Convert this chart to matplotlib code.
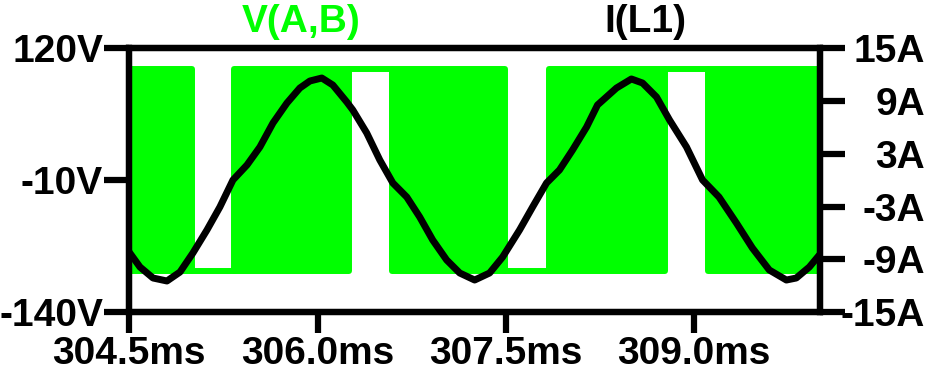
import matplotlib
matplotlib.use('Agg')
import matplotlib.pyplot as plt
from matplotlib.patches import Rectangle

# ---- data ----
# V(A,B): switching blocks ('sw') and constant-level gaps
v_seg_start = [304.5, 305.000, 305.334, 306.249, 306.591, 307.491, 307.841, 308.771, 309.113]
v_seg_end = [305.000, 305.334, 306.249, 306.591, 307.491, 307.841, 308.771, 309.113, 310.0]
v_seg_state = ['sw', 'low', 'sw', 'high', 'sw', 'low', 'sw', 'high', 'sw']
v_high = 100.0
v_low = -100.0

# I(L1)
i_t = [304.500, 304.585, 304.689, 304.800, 304.904, 305.007, 305.119, 305.222,
       305.326, 305.438, 305.541, 305.645, 305.756, 305.859, 305.939, 306.034,
       306.122, 306.233, 306.281, 306.392, 306.496, 306.600, 306.711, 306.814,
       306.918, 307.029, 307.133, 307.252, 307.371, 307.475, 307.610, 307.714,
       307.825, 307.928, 308.032, 308.144, 308.231, 308.382, 308.501, 308.590,
       308.701, 308.805, 308.940, 309.068, 309.199, 309.338, 309.465, 309.600,
       309.736, 309.815, 309.919, 309.999]
i_a = [-8.2, -9.88, -11.13, -11.47, -10.45, -8.28, -5.66, -3.04,
       0.03, 1.74, 3.79, 6.52, 8.79, 10.50, 11.30, 11.64,
       10.84, 8.91, 8.00, 5.38, 2.31, -0.31, -1.91, -4.18,
       -6.81, -9.08, -10.56, -11.36, -10.56, -8.74, -5.66, -3.04,
       -0.31, 1.17, 3.44, 6.06, 8.57, 10.50, 11.53, 11.07,
       9.48, 6.86, 3.79, 0.03, -1.91, -4.87, -7.71, -10.22,
       -11.36, -11.13, -9.88, -8.51]

x_ticks = [304.5, 306.0, 307.5, 309.0]
x_labels = ['304.5ms', '306.0ms', '307.5ms', '309.0ms']
v_ticks = [-140, -10, 120]
v_labels = ['-140V', '-10V', '120V']
a_ticks = [-15, -9, -3, 3, 9, 15]
a_labels = ['-15A', '-9A', '-3A', '3A', '9A', '15A']

# ---- style ----
plt.rcParams['font.family'] = ['Liberation Sans', 'DejaVu Sans']
plt.rcParams['font.weight'] = 'bold'
GREEN = '#00ff00'
FS = 28
LW_SP = 4.5

fig = plt.figure(figsize=(9.38, 3.83), dpi=100)
W, H = 938, 383
ax = fig.add_axes([129.3 / W, 1 - 312 / H, (819.5 - 129.3) / W, (312 - 48.5) / H])
ax2 = ax.twinx()

for s, e, st in zip(v_seg_start, v_seg_end, v_seg_state):
    if st == 'sw':
        ax.add_patch(Rectangle((s, v_low), e - s, v_high - v_low,
                               facecolor=GREEN, edgecolor=GREEN, linewidth=4.3,
                               joinstyle='round'))
    else:
        lvl = v_high if st == 'high' else v_low
        ax.plot([s, e], [lvl, lvl], color=GREEN, lw=4.3, solid_capstyle='round')

ax2.plot(i_t, i_a, color='black', lw=5, solid_joinstyle='round',
         solid_capstyle='round')

ax.set_xlim(304.5, 310.0)
ax.set_ylim(-140, 120)
ax2.set_ylim(-15, 15)

ax.set_xticks(x_ticks)
ax.set_xticklabels(x_labels)
ax.set_yticks(v_ticks)
ax.set_yticklabels(v_labels)
ax2.set_yticks(a_ticks)
ax2.set_yticklabels(a_labels)

for a in (ax, ax2):
    for sp in a.spines.values():
        sp.set_linewidth(LW_SP)
        sp.set_color('black')

ax.tick_params(axis='x', direction='out', length=15, width=LW_SP, pad=2,
               labelsize=FS)
ax.tick_params(axis='y', direction='out', length=18, width=LW_SP, pad=1,
               labelsize=FS)
ax2.tick_params(axis='y', direction='out', length=18, width=LW_SP, pad=58,
                labelsize=FS)
for lbl in ax2.get_yticklabels():
    lbl.set_horizontalalignment('right')
for lbl in ax.get_xticklabels() + ax.get_yticklabels() + ax2.get_yticklabels():
    lbl.set_fontweight('bold')

fig.text(301 / W, 1 - 22 / H, 'V(A,B)', color=GREEN, ha='center', va='center',
         fontsize=FS, fontweight='bold')
fig.text(645 / W, 1 - 22 / H, 'I(L1)', color='black', ha='center', va='center',
         fontsize=FS, fontweight='bold')

fig.savefig('out.png', dpi=100, facecolor='white')
